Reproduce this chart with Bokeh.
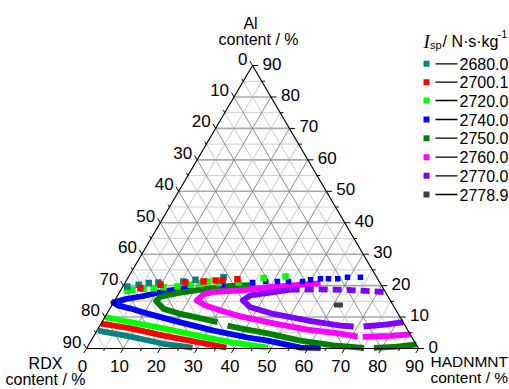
import numpy as np
from bokeh.plotting import figure
from bokeh.models import Range1d
from bokeh.core.properties import value
from bokeh.embed import file_html
from bokeh.resources import INLINE

# ---------------- data: HADNMNT content (b) and Al content (a), RDX = 90 - b - a ----------------
ticks = [0, 10, 20, 30, 40, 50, 60, 70, 80, 90]
tick_labels = ["0", "10", "20", "30", "40", "50", "60", "70", "80", "90"]
levels = ["2680.0", "2700.1", "2720.0", "2740.0", "2750.0", "2760.0", "2770.0", "2778.9"]
colors = ["#0a8080", "#ff0000", "#00ff00", "#0000ff", "#008000", "#ff00ff", "#8000ff", "#404040"]

# 2680.0
teal_low_b = [0.3, 10.0, 20.1, 28.6]
teal_low_a = [5.7, 3.8, 1.5, 0.3]
teal_up_b = [1.2, 4.0, 6.5, 9.0, 15.6, 18.6, 25.8]
teal_up_a = [19.7, 20.3, 20.8, 21.0, 21.3, 21.9, 22.7]
# 2700.1
red_low_b = [0.0, 8.8, 18.8, 29.1, 37.8]
red_low_a = [7.9, 6.4, 4.1, 2.0, 0.3]
red_up_b = [5.0, 9.9, 16.3, 21.1, 24.2, 26.1, 29.9]
red_up_a = [19.2, 20.3, 21.0, 21.3, 21.6, 21.6, 22.0]
# 2720.0
green_low_b = [0.0, 7.7, 17.7, 28.0, 38.0, 49.0]
green_low_a = [10.0, 8.4, 6.4, 4.1, 2.0, 0.3]
green_up_b = [1.8, 3.1, 6.0, 8.6, 11.1, 14.8, 18.1, 20.6, 22.4, 25.4, 30.7, 36.8, 42.5]
green_up_a = [18.4, 18.7, 18.9, 19.2, 19.5, 19.7, 20.3, 20.6, 21.3, 20.8, 21.0, 22.4, 22.9]
# 2740.0
blue_b = [18.6, 12.3, 7.1, 2.7, 0.0, 1.6, 5.6, 11.0, 21.3, 31.6, 41.9, 47.8, 57.9, 63.4]
blue_a = [19.2, 18.3, 16.7, 15.7, 14.6, 13.7, 12.7, 11.1, 8.3, 5.7, 3.5, 2.5, 0.3, 0.2]
blue_up_b = [26.7, 30.8, 34.5, 37.9, 41.1, 44.1, 47.9, 49.8, 52.3, 54.5, 57.0, 59.4, 62.9]
blue_up_a = [20.3, 20.8, 21.0, 21.3, 21.3, 21.3, 21.3, 21.9, 22.2, 22.2, 22.2, 22.7, 22.7]
# 2750.0
dg_b = [35.7, 29.1, 22.5, 15.9, 11.8, 11.3, 14.6, 20.0, 25.2, 31.3]
dg_a = [20.2, 19.9, 18.9, 17.6, 16.5, 15.1, 12.6, 11.0, 9.8, 8.4]
dg_low2_b = [34.6, 38.6, 46.7, 56.7, 66.5, 75.1]
dg_low2_a = [7.3, 6.4, 4.8, 2.5, 1.0, 0.2]
dg_low3_b = [77.8, 84.0, 88.8]
dg_low3_a = [0.2, 0.6, 1.3]
# 2760.0
pink_b = [53.1, 49.2, 40.6, 32.0, 25.4, 23.1, 22.2, 25.4, 30.3, 36.7, 46.7, 56.9, 66.5, 71.6]
pink_a = [20.7, 20.4, 19.6, 18.4, 18.0, 17.2, 15.3, 13.7, 12.1, 10.2, 8.0, 6.0, 4.7, 3.8]
pink_low2_b = [73.0, 80.4, 85.6]
pink_low2_a = [3.7, 4.0, 4.5]
# 2770.0
purple_b = [46.0, 41.7, 36.0, 34.7, 37.9, 45.2, 55.5, 65.2, 68.9]
purple_a = [18.7, 17.9, 16.9, 15.3, 13.1, 11.0, 8.9, 7.3, 7.0]
purple_low2_b = [71.6, 77.2, 81.7]
purple_low2_a = [7.0, 7.6, 8.4]
purple_up_b = [46.0, 54.1, 62.3, 72.6]
purple_up_a = [18.7, 18.8, 18.6, 17.9]
# 2778.9
gray_b = [61.4]
gray_a = [13.8]

# ---------------- layout ----------------
X0, Y0, SX, SY = 86.0, 348.0, 3.689, 3.144   # page px of origin, px per unit
W, H, OX, OY = 508, 388, 0, 0
FONT = value("Liberation Sans")


def tern(b, a):
    b = np.asarray(b, dtype=float)
    a = np.asarray(a, dtype=float)
    return b + a / 2.0, a


def px(x, y):
    return (x - X0) / SX, (Y0 - y) / SY


p = figure(width=W, height=H,
           x_range=Range1d((OX - X0) / SX, (OX + W - X0) / SX),
           y_range=Range1d((Y0 - OY - H) / SY, (Y0 - OY) / SY),
           output_backend="svg", toolbar_location=None,
           x_axis_type=None, y_axis_type=None, min_border=0,
           outline_line_color=None, background_fill_color="white",
           border_fill_color="white")

# ---- grid ----
def grid_segments(vals):
    hx, hy, dx, dy = [], [], [], []
    for v in vals:
        x1, y1 = tern(0, v); x2, y2 = tern(90 - v, v)
        hx.append([float(x1), float(x2)]); hy.append([float(y1), float(y2)])
        x1, y1 = tern(v, 0); x2, y2 = tern(v, 90 - v)
        dx.append([float(x1), float(x2)]); dy.append([float(y1), float(y2)])
        x1, y1 = tern(90 - v, 0); x2, y2 = tern(0, 90 - v)
        dx.append([float(x1), float(x2)]); dy.append([float(y1), float(y2)])
    return hx, hy, dx, dy

minor = [t + 5 for t in ticks[:-1]]
major = ticks[1:-1]
hx, hy, dx, dy = grid_segments(minor)
p.multi_line(hx, hy, line_color="#cfcfcf", line_width=1)
p.multi_line(dx, dy, line_color="#c8c8c8", line_width=1)
hx, hy, dx, dy = grid_segments(major)
p.multi_line(hx, hy, line_color="#a9a9a9", line_width=1.6)
p.multi_line(dx, dy, line_color="#8c8c8c", line_width=1)

# ---- contour bands ----
LW = 5.8
def band(b, a, c, dash="solid"):
    x, y = tern(b, a)
    p.line(x, y, line_color=c, line_width=LW, line_dash=dash, line_join="round")

def dots(b, a, c, size=6):
    x, y = tern(b, a)
    p.scatter(x, y, marker="square", size=size, fill_color=c, line_color=None)

band(teal_low_b, teal_low_a, colors[0])
band(red_low_b, red_low_a, colors[1])
band(green_low_b, green_low_a, colors[2])
band(blue_b, blue_a, colors[3])
band(dg_b, dg_a, colors[4])
band(dg_low2_b, dg_low2_a, colors[4])
band(dg_low3_b, dg_low3_a, colors[4])
band(pink_b, pink_a, colors[5])
band(pink_low2_b, pink_low2_a, colors[5])
band(purple_b, purple_a, colors[6])
band(purple_low2_b, purple_low2_a, colors[6])
band(purple_up_b, purple_up_a, colors[6], dash="9 5")
dots(blue_up_b, blue_up_a, colors[3], 5.5)
dots(green_up_b, green_up_a, colors[2], 6.5)
dots(teal_up_b, teal_up_a, colors[0], 6.5)
dots(red_up_b, red_up_a, colors[1], 6.5)
gx, gy = tern(gray_b, gray_a)
p.rect(gx, gy, width=9, height=5, width_units="screen", height_units="screen",
       fill_color=colors[7], line_color=None)

# ---- triangle frame ----
tx, ty = tern([0, 90, 0, 0], [0, 0, 90, 0])
p.line(tx, ty, line_color="black", line_width=1.2)

# ---- ticks ----
def tick_segs(vals, t):
    xs, ys = [], []
    for v in vals:
        x, y = tern(v, 0)                      # bottom (HADNMNT)
        xs.append([float(x), float(x) - 0.5 * t]); ys.append([0.0, -t])
        x, y = tern(0, 90 - v)                 # left (RDX)
        xs.append([float(x), float(x) - 0.5 * t]); ys.append([float(y), float(y) + t])
        x, y = tern(90 - v, v)                 # right (Al)
        xs.append([float(x), float(x) + 1.1 * t]); ys.append([float(y), float(y)])
    return xs, ys

xs, ys = tick_segs(ticks, 1.4)
p.multi_line(xs, ys, line_color="black", line_width=1)
xs, ys = tick_segs(minor, 0.8)
p.multi_line(xs, ys, line_color="black", line_width=1)

TS = "17px"
bx, by = tern(ticks, [0] * len(ticks))
p.text(bx, by, text=tick_labels, x_offset=-4, y_offset=17, text_align="center",
       text_baseline="middle", text_font=FONT, text_font_size=TS, text_color="black")
lx, ly = tern([0] * len(ticks), [90 - t for t in ticks])
p.text(lx, ly, text=tick_labels, x_offset=-5, y_offset=-7, text_align="right",
       text_baseline="middle", text_font=FONT, text_font_size=TS, text_color="black")
rx, ry = tern([90 - t for t in ticks], ticks)
p.text(rx, ry, text=tick_labels, x_offset=10, y_offset=-2, text_align="left",
       text_baseline="middle", text_font=FONT, text_font_size=TS, text_color="black")

# ---- axis titles ----
def label(x, y, s, size="16px", align="center", baseline="middle", font=FONT, style="normal"):
    dx_, dy_ = px(x, y)
    p.text([dx_], [dy_], text=[s], text_align=align, text_baseline=baseline,
           text_font=font, text_font_size=size, text_font_style=style, text_color="black")

label(250, 23, "Al")
label(258, 38.5, "content / %")
label(45, 362.5, "RDX")
label(45, 378.5, "content / %")
label(430, 361, "HADNMNT", size="15.5px", align="left")
label(430, 376.5, "content / %", size="15.5px", align="left")

# ---- legend ----
label(423, 41, "I", size="19px", align="left", baseline="alphabetic",
      font=value("Liberation Serif"), style="italic")
label(429.5, 44, "sp", size="11px", align="left", baseline="alphabetic")
label(442, 41, "/ N·s·kg", size="16px", align="left", baseline="alphabetic")
label(497, 33, "-1", size="11px", align="left", baseline="alphabetic")

entry_y = [63.3, 81.7, 100.0, 119.0, 137.7, 156.7, 175.3, 194.0]
for yy, lev, c in zip(entry_y, levels, colors):
    sx_, sy_ = px(426, yy)
    p.scatter([sx_], [sy_], marker="square", size=6, fill_color=c, line_color=None)
    x1, y1 = px(435, yy); x2, _ = px(457, yy)
    p.line([x1, x2], [y1, y1], line_color="black", line_width=1.3)
    label(459, yy, lev, size="16px", align="left")

open("out.html", "w").write(file_html(p, INLINE))
